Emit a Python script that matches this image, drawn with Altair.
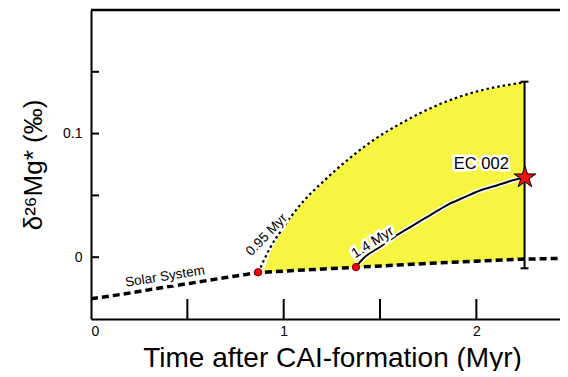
import altair as alt
import pandas as pd

# ---- data ----
solar_x = [0.0, 0.17, 0.34, 0.51, 0.69, 0.87, 1.15, 1.38, 1.74, 2.23, 2.434]
solar_y = [-0.0336, -0.0298, -0.0253, -0.0212, -0.0167, -0.0124, -0.0100, -0.0081, -0.0051, -0.0016, -0.0010]

upper_x = [0.868, 0.929, 0.996, 1.085, 1.214, 1.344, 1.474, 1.603, 1.811, 1.993, 2.242]
upper_y = [-0.0124, 0.0074, 0.0236, 0.0422, 0.0625, 0.0803, 0.0956, 0.1078, 0.1239, 0.1337, 0.1413]

area_x = [0.893, 0.94, 1.003, 1.09, 1.218, 1.347, 1.476, 1.605, 1.812, 1.993, 2.242, 2.25]
area_top = [-0.0122, 0.0074, 0.0236, 0.0422, 0.0625, 0.0803, 0.0956, 0.1078, 0.1239, 0.1337, 0.1413, 0.1415]
area_bottom = [-0.0122, -0.0119, -0.0114, -0.0107, -0.0096, -0.0084, -0.0073, -0.0062, -0.0047, -0.0032, -0.0016, -0.0016]

ec_x = [1.375, 1.413, 1.50, 1.586, 1.672, 1.759, 1.846, 1.932, 2.019, 2.105, 2.20, 2.252]
ec_y = [-0.0078, -0.001, 0.0083, 0.0177, 0.0258, 0.0339, 0.042, 0.0481, 0.054, 0.058, 0.0627, 0.0645]

dot_x = [0.867, 1.375]
dot_y = [-0.0122, -0.0080]

star_x = [2.252]
star_y = [0.0645]

err_x = [2.25]
err_lo = [-0.009]
err_hi = [0.142]

label_text = ["Solar System", "0.95 Myr", "1.4 Myr", "EC 002"]
label_x = [0.384, 0.912, 1.462, 2.026]
label_y = [-0.0156, 0.0180, 0.0118, 0.0758]
label_angle = [351, 314, 328, 0]
label_size = [13.5, 13.5, 14, 16.5]

x_tick_vals = [0.5, 1.0, 1.5, 2.0]
y_tick_vals = [0.0, 0.05, 0.1, 0.15]
x_label_vals = [0, 1, 2]
y_label_vals = [0, 0.1]

X_DOMAIN = [0, 2.434]
Y_DOMAIN = [-0.05, 0.2]
FONT = "Liberation Sans"
STAR = ("M0,-1L0.2245,-0.309L0.951,-0.309L0.3633,0.118L0.588,0.809L0,0.382"
        "L-0.588,0.809L-0.3633,0.118L-0.951,-0.309L-0.2245,-0.309Z")

xs = alt.Scale(domain=X_DOMAIN, nice=False, zero=False)
ys = alt.Scale(domain=Y_DOMAIN, nice=False, zero=False)


def X(f, axis=None):
    if axis is None:
        return alt.X(f, type="quantitative", scale=xs)
    return alt.X(f, type="quantitative", scale=xs, axis=axis)


def Y(f, axis=None):
    if axis is None:
        return alt.Y(f, type="quantitative", scale=ys)
    return alt.Y(f, type="quantitative", scale=ys, axis=axis)


solar_df = pd.DataFrame({"x": solar_x, "y": solar_y})
upper_df = pd.DataFrame({"x": upper_x, "y": upper_y})
area_df = pd.DataFrame({"x": area_x, "top": area_top, "bottom": area_bottom})
ec_df = pd.DataFrame({"x": ec_x, "y": ec_y})
dot_df = pd.DataFrame({"x": dot_x, "y": dot_y})
star_df = pd.DataFrame({"x": star_x, "y": star_y})
err_df = pd.DataFrame({"x": err_x, "lo": err_lo, "hi": err_hi})
cap_df = pd.DataFrame({"x": err_x * 2, "y": err_lo + err_hi})
lab_df = pd.DataFrame({"t": label_text, "x": label_x, "y": label_y,
                       "a": label_angle, "s": label_size})

x_axis = alt.Axis(values=x_label_vals, ticks=False, domain=True, domainColor="black",
                  domainWidth=2, grid=False, labelFontSize=14, labelFont=FONT,
                  labelColor="black", labelPadding=5, title="Time after CAI-formation (Myr)",
                  titleFont=FONT, titleFontSize=28, titleFontWeight="normal",
                  titleColor="black", titlePadding=6, titleX=241, format="d")
y_axis = alt.Axis(values=y_label_vals, ticks=False, domain=True, domainColor="black",
                  domainWidth=2, grid=False, labelFontSize=14, labelFont=FONT,
                  labelColor="black", labelPadding=9, title="δ²⁶Mg* (‰)",
                  titleFont=FONT, titleFontSize=26, titleFontWeight="normal",
                  titleColor="black", titlePadding=16,
                  labelExpr="datum.value == 0 ? '0' : format(datum.value, '.1f')")

area = alt.Chart(area_df).mark_area(color="#f5f542", opacity=1).encode(
    x=X("x", x_axis), y=Y("top", y_axis), y2="bottom")

solar = alt.Chart(solar_df).mark_line(color="black", strokeWidth=3.5,
                                      strokeDash=[7, 4]).encode(x=X("x"), y=Y("y"))

upper = alt.Chart(upper_df).mark_line(color="black", strokeWidth=2.2, strokeDash=[2.5, 3],
                                      interpolate="monotone").encode(x=X("x"), y=Y("y"))

ec_halo = alt.Chart(ec_df).mark_line(color="white", strokeWidth=5,
                                     interpolate="monotone").encode(x=X("x"), y=Y("y"))
ec_line = alt.Chart(ec_df).mark_line(color="black", strokeWidth=2,
                                     interpolate="monotone").encode(x=X("x"), y=Y("y"))

err = alt.Chart(err_df).mark_rule(color="black", strokeWidth=2).encode(
    x=X("x"), y=Y("lo"), y2="hi")
caps = alt.Chart(cap_df).mark_tick(color="black", orient="horizontal", size=8,
                                   thickness=2, opacity=1).encode(x=X("x"), y=Y("y"))

dots = alt.Chart(dot_df).mark_circle(color="#ee0000", stroke="#880000", strokeWidth=1,
                                     size=55, opacity=1).encode(x=X("x"), y=Y("y"))

star = alt.Chart(star_df).mark_point(shape=STAR, filled=True, color="#ee1111",
                                     stroke="black", strokeWidth=1, size=520,
                                     opacity=1).encode(x=X("x"), y=Y("y"))

lab_halo = alt.Chart(lab_df).mark_text(font=FONT, color="white", stroke="white",
                                       strokeWidth=5).encode(
    x=X("x"), y=Y("y"), text="t:N", angle=alt.Angle("a:Q", scale=None),
    size=alt.Size("s:Q", scale=None))
lab = alt.Chart(lab_df).mark_text(font=FONT, color="black").encode(
    x=X("x"), y=Y("y"), text="t:N", angle=alt.Angle("a:Q", scale=None),
    size=alt.Size("s:Q", scale=None))

# inward tick marks and top frame, all from data
xt_df = pd.DataFrame({"x": x_tick_vals, "y0": [Y_DOMAIN[0]] * 4,
                      "y1": [Y_DOMAIN[0] + 0.0162] * 4})
yt_df = pd.DataFrame({"y": y_tick_vals, "x0": [0.0] * 4, "x1": [0.0415] * 4})
xticks = alt.Chart(xt_df).mark_rule(color="black", strokeWidth=2).encode(
    x=X("x"), y=Y("y0"), y2="y1")
yticks_l = alt.Chart(yt_df).mark_rule(color="black", strokeWidth=2).encode(
    y=Y("y"), x=X("x0"), x2="x1")
top_df = pd.DataFrame({"x": [X_DOMAIN[0]], "x2": [X_DOMAIN[1]], "y": [Y_DOMAIN[1]]})
top = alt.Chart(top_df).mark_rule(color="black", strokeWidth=2.5).encode(
    x=X("x"), x2="x2", y=Y("y"))

chart = alt.layer(area, solar, upper, ec_halo, ec_line, err, caps, dots, star, lab_halo, lab,
                  xticks, yticks_l, top).properties(
    width=469, height=309,
    autosize=alt.AutoSizeParams(type="none"),
    padding={"left": 83, "top": 2, "right": 0, "bottom": 52},
    background="white",
).configure_view(stroke=None)

chart.save("out.html", embed_options={"renderer": "svg", "actions": False})
